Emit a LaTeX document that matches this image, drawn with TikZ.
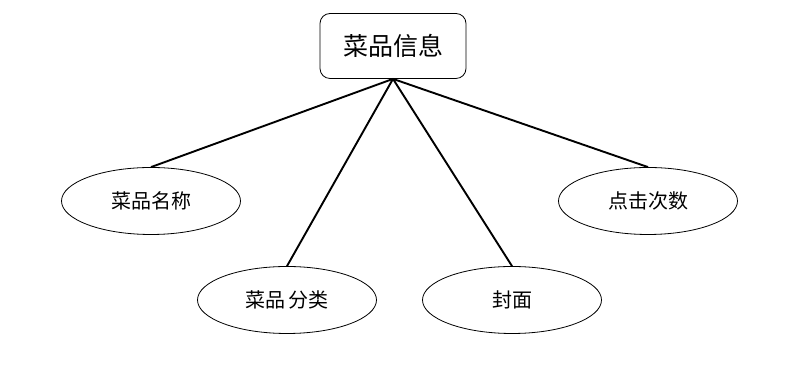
\documentclass[tikz,border=0pt]{standalone}
\usepackage{fontspec}
\newfontfamily\cjk{Noto Sans CJK SC}
\usetikzlibrary{shapes.geometric}
\begin{document}
\begin{tikzpicture}[x=1pt,y=1pt,
  entity/.style={draw, rounded corners=10pt, line width=0.8pt, minimum width=146pt, minimum height=65pt, font=\cjk\fontsize{25}{28}\selectfont, fill=white},
  attr/.style={draw, ellipse, line width=0.8pt, minimum width=179pt, minimum height=67pt, font=\cjk\fontsize{20}{24}\selectfont, fill=white},
  link/.style={line width=1.9pt}]
\useasboundingbox (0,0) rectangle (795,387);
\node[entity] (top) at (393,341) {菜品信息};
\node[attr] (a1) at (151,186) {菜品名称};
\node[attr] (a2) at (287,87) {菜品\hspace{3pt}分类};
\node[attr] (a3) at (512,87) {封面};
\node[attr] (a4) at (648,186) {点击次数};
\coordinate (hub) at (top.south);
\draw[link] (hub) -- (a1.north);
\draw[link] (hub) -- (a2.north);
\draw[link] (hub) -- (a3.north);
\draw[link] (hub) -- (a4.north);
\end{tikzpicture}
\end{document}
